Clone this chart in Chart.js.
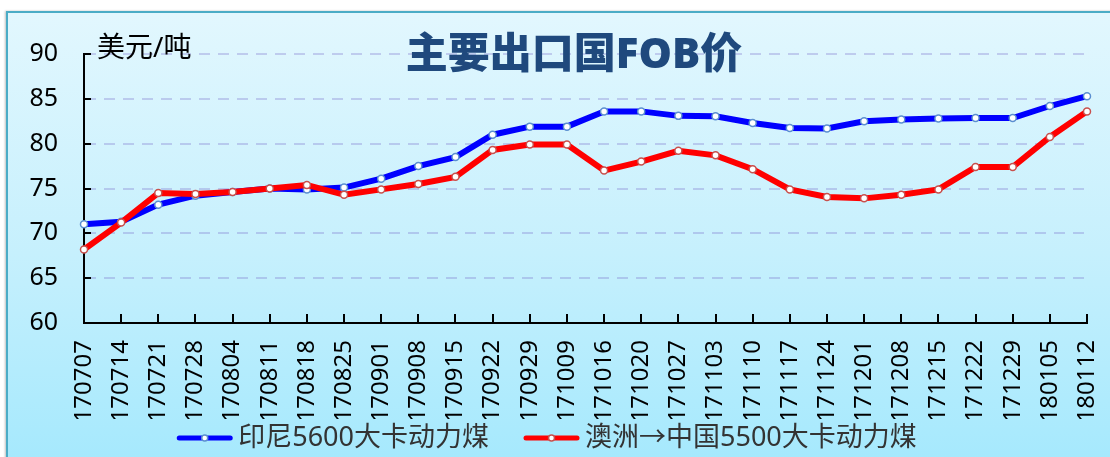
<!DOCTYPE html>
<html>
<head>
<meta charset="utf-8">
<script src="https://cdn.jsdelivr.net/npm/chart.js@4.4.0/dist/chart.umd.min.js"></script>
<style>
  html, body { margin: 0; padding: 0; background: #fff; }
  .wrap { position: relative; width: 1110px; height: 457px; overflow: hidden; }
  .frame {
    position: absolute; left: 6px; top: 11px; width: 1200px; height: 500px;
    border-left: 2px solid #4bacc6; border-top: 2px solid #4bacc6;
    background: linear-gradient(to bottom, #e2f7fe 0px, #c6f0fd 240px, #a6e9fd 446px);
    box-shadow: -1px 0 2px rgba(0,0,0,0.25);
  }
  canvas { position: absolute; left: 0; top: 0; }
</style>
</head>
<body>
<div class="wrap">
  <div class="frame"></div>
  <canvas id="chart" width="1110" height="457"></canvas>
</div>
<script>
// 周度日期
const weeks = ["170707", "170714", "170721", "170728", "170804", "170811", "170818", "170825",
  "170901", "170908", "170915", "170922", "170929", "171009", "171016", "171020", "171027",
  "171103", "171110", "171117", "171124", "171201", "171208", "171215", "171222", "171229",
  "180105", "180112"];
// 印尼5600大卡动力煤
const indonesia = [71.0, 71.3, 73.2, 74.2, 74.6, 75.0, 74.9, 75.1, 76.1, 77.5, 78.5, 81.0,
  81.9, 81.9, 83.6, 83.6, 83.1, 83.05, 82.3, 81.75, 81.7, 82.5, 82.7, 82.8, 82.85, 82.85,
  84.2, 85.3];
// 澳洲→中国5500大卡动力煤
const australia = [68.2, 71.2, 74.5, 74.4, 74.6, 75.0, 75.4, 74.3, 74.9, 75.5, 76.3, 79.3,
  79.9, 79.9, 77.0, 78.0, 79.2, 78.7, 77.15, 74.9, 74.05, 73.9, 74.3, 74.9, 77.4, 77.4,
  80.75, 83.6];
const yTicks = [60, 65, 70, 75, 80, 85, 90];

const FONT = "'Noto Sans', 'Noto Sans CJK SC', sans-serif";

// 标题、单位、内侧刻度、图例
const decorPlugin = {
	id: "decor",
	afterDraw(chart) {
		const ctx = chart.ctx;
		const area = chart.chartArea;
		const xs = chart.scales.x;
		const ys = chart.scales.y;
		ctx.save();
		ctx.strokeStyle = "#000";
		ctx.lineWidth = 2;
		ys.ticks.forEach((t, i) => {
			const y = Math.round(ys.getPixelForTick(i));
			ctx.beginPath();
			ctx.moveTo(area.left, y);
			ctx.lineTo(area.left + 7, y);
			ctx.stroke();
		});
		xs.ticks.forEach((t, i) => {
			const x = Math.round(xs.getPixelForTick(i));
			ctx.beginPath();
			ctx.moveTo(x, area.bottom);
			ctx.lineTo(x, area.bottom - 9);
			ctx.stroke();
		});
		ctx.fillStyle = "#000";
		ctx.font = "28px " + FONT;
		ctx.textAlign = "left";
		ctx.textBaseline = "middle";
		ctx.fillText("美元/吨", area.left + 13, area.top - 5);
		ctx.fillStyle = "#1f497d";
		ctx.font = "900 42px " + FONT;
		ctx.textAlign = "center";
		ctx.fillText("主要出口国FOB价", 574, area.top + 2);

		// 图例: 线段 + 圆点 + 文字
		const sets = chart.data.datasets;
		const sampleW = 55, gap = 6, itemGap = 35, ly = 438;
		ctx.font = "27px " + FONT;
		ctx.textAlign = "left";
		const widths = sets.map((d) => sampleW + gap + ctx.measureText(d.label).width);
		const total = widths.reduce((a, b) => a + b, 0) + itemGap * (sets.length - 1);
		let lx = 547 - total / 2;
		sets.forEach((d, i) => {
			ctx.strokeStyle = d.borderColor;
			ctx.lineWidth = 5;
			ctx.lineCap = "round";
			ctx.beginPath();
			ctx.moveTo(lx + 2, ly);
			ctx.lineTo(lx + sampleW - 2, ly);
			ctx.stroke();
			ctx.beginPath();
			ctx.arc(lx + sampleW / 2, ly, 3, 0, Math.PI * 2);
			ctx.fillStyle = "#fff";
			ctx.fill();
			ctx.lineWidth = 1.5;
			ctx.strokeStyle = d.pointBorderColor;
			ctx.stroke();
			ctx.fillStyle = "#333";
			ctx.fillText(d.label, lx + sampleW + gap, ly);
			lx += widths[i] + itemGap;
		});
		ctx.restore();
	},
};

const chart = new Chart(document.getElementById("chart").getContext("2d"), {
	type: "line",
	data: {
		labels: weeks,
		datasets: [
			{
				label: "印尼5600大卡动力煤",
				data: indonesia,
				borderColor: "#0000ff",
				borderWidth: 6,
				pointRadius: 3.5,
				pointBackgroundColor: "#fff",
				pointBorderColor: "#5b8fd0",
				pointBorderWidth: 1.5,
				tension: 0,
				order: 2,
			},
			{
				label: "澳洲→中国5500大卡动力煤",
				data: australia,
				borderColor: "#ff0000",
				borderWidth: 6,
				pointRadius: 3.5,
				pointBackgroundColor: "#fff",
				pointBorderColor: "#c8504d",
				pointBorderWidth: 1.5,
				tension: 0,
				order: 1,
			},
		],
	},
	options: {
		responsive: false,
		animation: false,
		devicePixelRatio: 1,
		layout: { padding: { top: 54, right: 23, left: 0, bottom: 38 } },
		plugins: {
			tooltip: { enabled: false },
			legend: { display: false },
		},
		scales: {
			x: {
				offset: false,
				grid: { display: false },
				border: { display: true, color: "#000", width: 2 },
				ticks: {
					minRotation: 90,
					maxRotation: 90,
					autoSkip: false,
					padding: 9,
					color: "#000",
					font: { size: 24, family: FONT },
				},
				afterFit: (s) => {
					s.height = 96;
					s.paddingLeft = 0;
					s.paddingRight = 0;
				},
			},
			y: {
				min: 60,
				max: 90,
				afterBuildTicks: (s) => {
					s.ticks = yTicks.map((v) => ({ value: v }));
				},
				grid: {
					color: "rgba(125,115,205,0.32)",
					lineWidth: 2,
					drawTicks: false,
				},
				border: { display: true, color: "#000", width: 2, dash: [11, 8] },
				ticks: {
					padding: 26,
					color: "#000",
					font: { size: 25, family: FONT },
				},
				afterFit: (s) => {
					s.width = 84;
				},
			},
		},
	},
	plugins: [decorPlugin],
});
</script>
</body>
</html>
